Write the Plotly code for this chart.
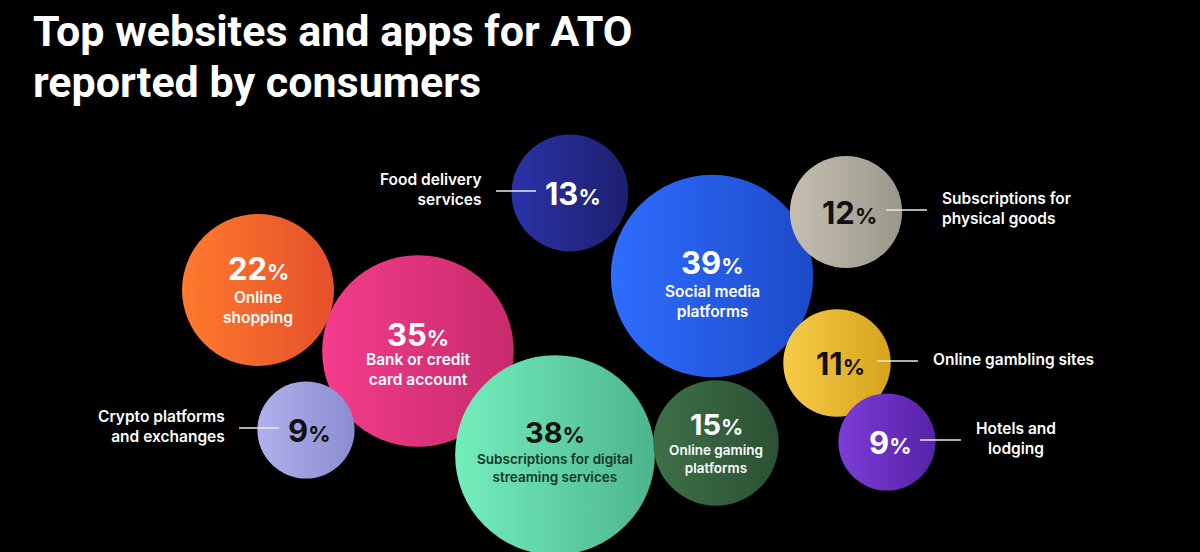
import plotly.graph_objects as go

# ---- data ----
categories = [
    "Online<br>shopping",
    "Bank or credit<br>card account",
    "Crypto platforms<br>and exchanges",
    "Food delivery<br>services",
    "Social media<br>platforms",
    "Subscriptions for<br>physical goods",
    "Online gambling sites",
    "Hotels and<br>lodging",
    "Subscriptions for digital<br>streaming services",
    "Online gaming<br>platforms",
]
shares = [22, 35, 9, 13, 39, 12, 11, 9, 38, 15]

# packed-bubble layout (pixel grid, origin top-left)
bubble_x = [258, 418, 306, 570, 712, 846, 837, 887, 555, 716]
bubble_y = [290, 351, 430, 193, 276, 212, 363, 442, 455, 443]

# where the label goes: inside the bubble, or beside it with a leader line
label_side = ["in", "in", "left", "left", "in", "right", "right", "right", "in", "in"]
# vertical nudges of the number / label block for bubbles with text inside
num_dy = [-22, -17, 0, 0, -14, 0, 0, 0, -23, -19]
lab_dy = [17, 18, 0, 0, 25, 0, 0, 0, 13, 16]
lab_size = [15.5, 15.5, 15.5, 15.5, 15.5, 15.5, 15.5, 15.5, 13.5, 13.5]

fill_start = ["#FF7A2E", "#F43C8C", "#B0B0EC", "#2B33A8", "#2F6DFF",
              "#C4BFB0", "#F7CC48", "#7D3DD6", "#74EEBE", "#3E7048"]
fill_end = ["#E5502B", "#C72A6C", "#8C8CD2", "#1D1F6E", "#1C4AC8",
            "#9B978B", "#D7A21C", "#5622A6", "#4DB58D", "#2C5034"]
num_ink = ["#FFFFFF", "#FFFFFF", "#111111", "#FFFFFF", "#FFFFFF",
           "#111111", "#111111", "#FFFFFF", "#111111", "#FFFFFF"]
label_ink = ["#FFFFFF", "#FFFFFF", "#FFFFFF", "#FFFFFF", "#FFFFFF",
             "#FFFFFF", "#FFFFFF", "#FFFFFF", "#143626", "#FFFFFF"]

W, H = 1200, 552
BG = "#000000"
NUM_FONT = "Inter"
TITLE_FONT = "Roboto, sans-serif"

fig = go.Figure()

fig.add_trace(go.Scatter(
    x=bubble_x,
    y=bubble_y,
    mode="markers",
    marker=dict(
        size=shares,
        sizemode="area",
        sizeref=1 / (2 * 16.2 ** 2),
        color=fill_start,
        gradient=dict(type="horizontal", color=fill_end),
        line=dict(width=0),
        opacity=1,
    ),
    hoverinfo="skip",
    showlegend=False,
))

annotations = []
shapes = []

# title, two lines
for line, ty in [("Top websites and apps for ATO", 31), ("reported by consumers", 82)]:
    annotations.append(dict(
        text=line, x=31, y=ty, xref="x", yref="y",
        xanchor="left", yanchor="middle", showarrow=False,
        font=dict(family=TITLE_FONT, size=43, color="white", weight="bold"),
    ))

for i, name in enumerate(categories):
    cx, cy, v = bubble_x[i], bubble_y[i], shares[i]
    num = f"<b>{v}<span style='font-size:22px'>%</span></b>"
    if label_side[i] == "in":
        annotations.append(dict(
            text=num, x=cx, y=cy + num_dy[i], xref="x", yref="y", showarrow=False,
            xanchor="center", yanchor="middle",
            font=dict(family=NUM_FONT, size=31 if lab_size[i] > 14 else 29, color=num_ink[i]),
        ))
        annotations.append(dict(
            text=name, x=cx, y=cy + lab_dy[i], xref="x", yref="y", showarrow=False,
            xanchor="center", yanchor="middle",
            font=dict(family=NUM_FONT, size=lab_size[i], color=label_ink[i], weight=600),
        ))
        continue

    nx = cx + 3
    annotations.append(dict(
        text=num, x=nx, y=cy, xref="x", yref="y", showarrow=False,
        xanchor="center", yanchor="middle",
        font=dict(family=NUM_FONT, size=31, color=num_ink[i]),
    ))
    # leader line starts a little clear of the number
    gap = 12 + (18 if v < 10 else 25)
    if label_side[i] == "left":
        x1 = nx - gap
        x0 = x1 - 40
        tx, anchor = x0 - 12, "right"
    else:
        x0 = nx + gap
        x1 = x0 + 41
        tx, anchor = x1 + 13, "left"
    shapes.append(dict(
        type="line", x0=x0, x1=x1, y0=cy - 2, y1=cy - 2, xref="x", yref="y",
        line=dict(color="#E8E8E8", width=1.5),
    ))
    if name == "Hotels and<br>lodging":
        anchor, tx = "center", x1 + 55
    annotations.append(dict(
        text=name, x=tx, y=cy - 4, xref="x", yref="y", showarrow=False,
        xanchor=anchor, yanchor="middle", align=anchor,
        font=dict(family=NUM_FONT, size=lab_size[i], color=label_ink[i], weight=600),
    ))

fig.update_layout(
    width=W,
    height=H,
    margin=dict(l=0, r=0, t=0, b=0),
    paper_bgcolor=BG,
    plot_bgcolor=BG,
    xaxis=dict(range=[0, W], visible=False, fixedrange=True),
    yaxis=dict(range=[H, 0], visible=False, fixedrange=True),
    annotations=annotations,
    shapes=shapes,
)

# drop the default page margin so the figure sits flush in the window
fig.write_html(
    "out.html",
    config={"displayModeBar": False},
    post_script="document.body.style.margin='0';document.body.style.background='#000';",
)
